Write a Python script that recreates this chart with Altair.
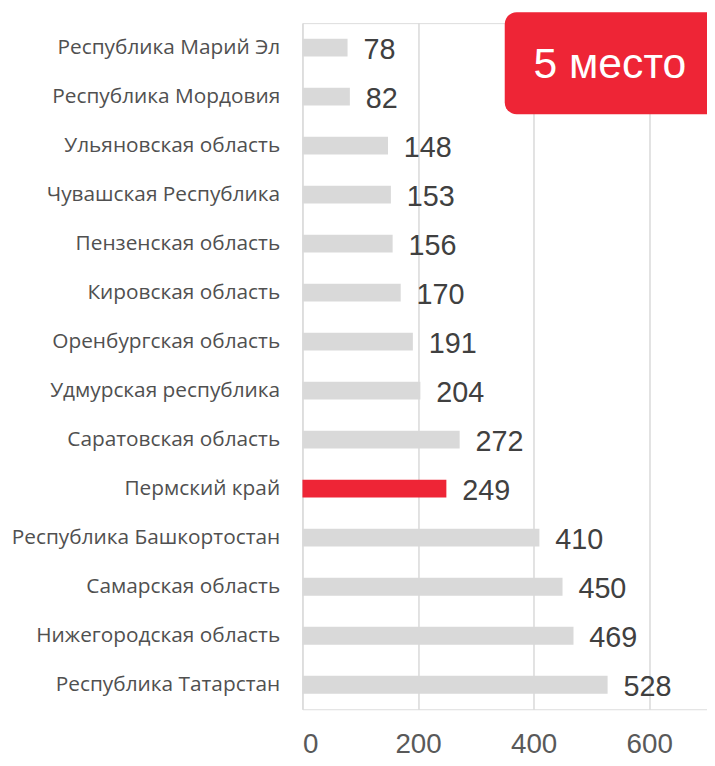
import altair as alt
import pandas as pd

regions = [
    "Республика Марий Эл",
    "Республика Мордовия",
    "Ульяновская область",
    "Чувашская Республика",
    "Пензенская область",
    "Кировская область",
    "Оренбургская область",
    "Удмурская республика",
    "Саратовская область",
    "Пермский край",
    "Республика Башкортостан",
    "Самарская область",
    "Нижегородская область",
    "Республика Татарстан",
]
values = [78, 82, 148, 153, 156, 170, 191, 204, 272, 249, 410, 450, 469, 528]
highlight = "Пермский край"
x_ticks = [0, 200, 400, 600]
badge_text = "5 место"

df = pd.DataFrame({"region": regions, "value": values})
df["hl"] = df["region"] == highlight

FONT = "Liberation Sans"
LABEL_FONT = "Open Sans"

y_enc = alt.Y(
    "region:N",
    sort=regions,
    title=None,
    axis=alt.Axis(
        labelFont=LABEL_FONT,
        labelFontSize=21,
        labelColor="#505050",
        labelPadding=23,
        ticks=False,
        domain=False,
        grid=False,
        labelLimit=400,
    ),
)
x_enc = alt.X(
    "value:Q",
    title=None,
    scale=alt.Scale(domain=[0, 700], nice=False),
    axis=alt.Axis(
        values=x_ticks,
        labelFont=FONT,
        labelFontSize=28,
        labelColor="#595959",
        labelPadding=22,
        ticks=False,
        domain=False,
        grid=True,
        gridColor="#d9d9d9",
        gridWidth=1.5,
    ),
)

bars = alt.Chart(df).mark_bar(size=18).encode(
    y=y_enc,
    x=x_enc,
    color=alt.Color(
        "hl:N",
        scale=alt.Scale(domain=[False, True], range=["#d9d9d9", "#ee2536"]),
        legend=None,
    ),
)

labels = alt.Chart(df).mark_text(
    align="left", baseline="middle", dx=16, dy=2, font=FONT, fontSize=29, color="#404040"
).encode(y=alt.Y("region:N", sort=regions), x="value:Q", text="value:Q")

badge_df = pd.DataFrame({"t": [badge_text]})
badge_box = alt.Chart(badge_df).mark_rect(color="#ee2536", cornerRadius=12).encode(
    x=alt.value(204), x2=alt.value(420), y=alt.value(-11), y2=alt.value(92)
)
badge_label = alt.Chart(badge_df).mark_text(
    font=FONT, fontSize=43, color="white", align="center", baseline="middle"
).encode(x=alt.value(310), y=alt.value(42), text="t:N")

chart = (
    alt.layer(bars, labels, badge_box, badge_label)
    .properties(
        width=408,
        height=692,
        autosize=alt.AutoSizeParams(type="none"),
        padding={"left": 297, "top": 12, "right": 0, "bottom": 52},
    )
    .configure_view(strokeWidth=0, stroke="transparent", clip=False)
    .configure(background="white")
)

chart.save("out.html", embed_options={"renderer": "svg", "actions": False})
